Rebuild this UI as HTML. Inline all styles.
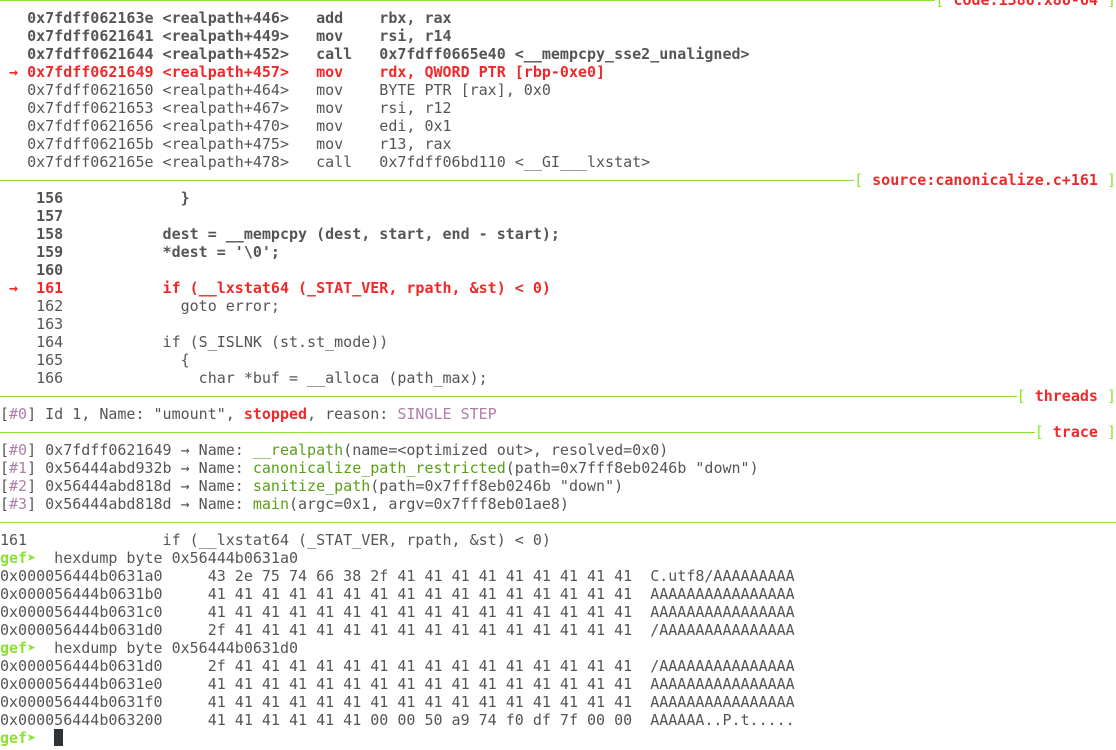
<!DOCTYPE html>
<html><head><meta charset="utf-8"><style>
html,body{margin:0;padding:0;background:#fff;width:1116px;height:750px;overflow:hidden}
#t{position:absolute;left:0;top:-9px;width:1116px;font-family:"DejaVu Sans Mono","Liberation Mono",monospace;font-size:15px;line-height:18px;color:#555}
.l{height:18px;white-space:pre;position:relative}
.b{font-weight:bold}
.r{color:#ef2929;font-weight:bold}
.p{color:#ad7fa8}
.g{color:#5a9e16}
.gp{color:#8ae234;font-weight:bold}
.sep{display:flex;align-items:center;height:18px;white-space:pre}
.sep .ln{flex:1;border-top:1px solid #8ae234;height:0;margin-top:1px}
.sep .br{color:#8ae234}
.sep .lb{color:#ef2929;font-weight:bold}
.cur{display:inline-block;width:9px;height:17px;background:#2e3436;vertical-align:-3px}
</style></head><body><div id="t">
<div class="sep"><span class="ln"></span><span class="br">[ </span><span class="lb">code:i386:x86-64</span><span class="br"> ]</span></div>
<div class="l b">   0x7fdff062163e &lt;realpath+446&gt;   add    rbx, rax</div>
<div class="l b">   0x7fdff0621641 &lt;realpath+449&gt;   mov    rsi, r14</div>
<div class="l b">   0x7fdff0621644 &lt;realpath+452&gt;   call   0x7fdff0665e40 &lt;__mempcpy_sse2_unaligned&gt;</div>
<div class="l r"> → 0x7fdff0621649 &lt;realpath+457&gt;   mov    rdx, QWORD PTR [rbp-0xe0]</div>
<div class="l">   0x7fdff0621650 &lt;realpath+464&gt;   mov    BYTE PTR [rax], 0x0</div>
<div class="l">   0x7fdff0621653 &lt;realpath+467&gt;   mov    rsi, r12</div>
<div class="l">   0x7fdff0621656 &lt;realpath+470&gt;   mov    edi, 0x1</div>
<div class="l">   0x7fdff062165b &lt;realpath+475&gt;   mov    r13, rax</div>
<div class="l">   0x7fdff062165e &lt;realpath+478&gt;   call   0x7fdff06bd110 &lt;__GI___lxstat&gt;</div>
<div class="sep"><span class="ln"></span><span class="br">[ </span><span class="lb">source:canonicalize.c+161</span><span class="br"> ]</span></div>
<div class="l b">    156             }</div>
<div class="l b">    157</div>
<div class="l b">    158           dest = __mempcpy (dest, start, end - start);</div>
<div class="l b">    159           *dest = '\0';</div>
<div class="l b">    160</div>
<div class="l r"> →  161           if (__lxstat64 (_STAT_VER, rpath, &amp;st) &lt; 0)</div>
<div class="l">    162             goto error;</div>
<div class="l">    163</div>
<div class="l">    164           if (S_ISLNK (st.st_mode))</div>
<div class="l">    165             {</div>
<div class="l">    166               char *buf = __alloca (path_max);</div>
<div class="sep"><span class="ln"></span><span class="br">[ </span><span class="lb">threads</span><span class="br"> ]</span></div>
<div class="l">[<span class="p">#0</span>] Id 1, Name: "umount", <span class="r">stopped</span>, reason: <span class="p">SINGLE STEP</span></div>
<div class="sep"><span class="ln"></span><span class="br">[ </span><span class="lb">trace</span><span class="br"> ]</span></div>
<div class="l">[<span class="p">#0</span>] 0x7fdff0621649 → Name: <span class="g">__realpath</span>(name=&lt;optimized out&gt;, resolved=0x0)</div>
<div class="l">[<span class="p">#1</span>] 0x56444abd932b → Name: <span class="g">canonicalize_path_restricted</span>(path=0x7fff8eb0246b "down")</div>
<div class="l">[<span class="p">#2</span>] 0x56444abd818d → Name: <span class="g">sanitize_path</span>(path=0x7fff8eb0246b "down")</div>
<div class="l">[<span class="p">#3</span>] 0x56444abd818d → Name: <span class="g">main</span>(argc=0x1, argv=0x7fff8eb01ae8)</div>
<div class="sep"><span class="ln"></span></div>
<div class="l">161               if (__lxstat64 (_STAT_VER, rpath, &amp;st) &lt; 0)</div>
<div class="l"><span class="gp">gef➤</span>  hexdump byte 0x56444b0631a0</div>
<div class="l">0x000056444b0631a0     43 2e 75 74 66 38 2f 41 41 41 41 41 41 41 41 41  C.utf8/AAAAAAAAA</div>
<div class="l">0x000056444b0631b0     41 41 41 41 41 41 41 41 41 41 41 41 41 41 41 41  AAAAAAAAAAAAAAAA</div>
<div class="l">0x000056444b0631c0     41 41 41 41 41 41 41 41 41 41 41 41 41 41 41 41  AAAAAAAAAAAAAAAA</div>
<div class="l">0x000056444b0631d0     2f 41 41 41 41 41 41 41 41 41 41 41 41 41 41 41  /AAAAAAAAAAAAAAA</div>
<div class="l"><span class="gp">gef➤</span>  hexdump byte 0x56444b0631d0</div>
<div class="l">0x000056444b0631d0     2f 41 41 41 41 41 41 41 41 41 41 41 41 41 41 41  /AAAAAAAAAAAAAAA</div>
<div class="l">0x000056444b0631e0     41 41 41 41 41 41 41 41 41 41 41 41 41 41 41 41  AAAAAAAAAAAAAAAA</div>
<div class="l">0x000056444b0631f0     41 41 41 41 41 41 41 41 41 41 41 41 41 41 41 41  AAAAAAAAAAAAAAAA</div>
<div class="l">0x000056444b063200     41 41 41 41 41 41 00 00 50 a9 74 f0 df 7f 00 00  AAAAAA..P.t.....</div>
<div class="l"><span class="gp">gef➤</span>  <span class="cur"></span></div>
</div></body></html>
